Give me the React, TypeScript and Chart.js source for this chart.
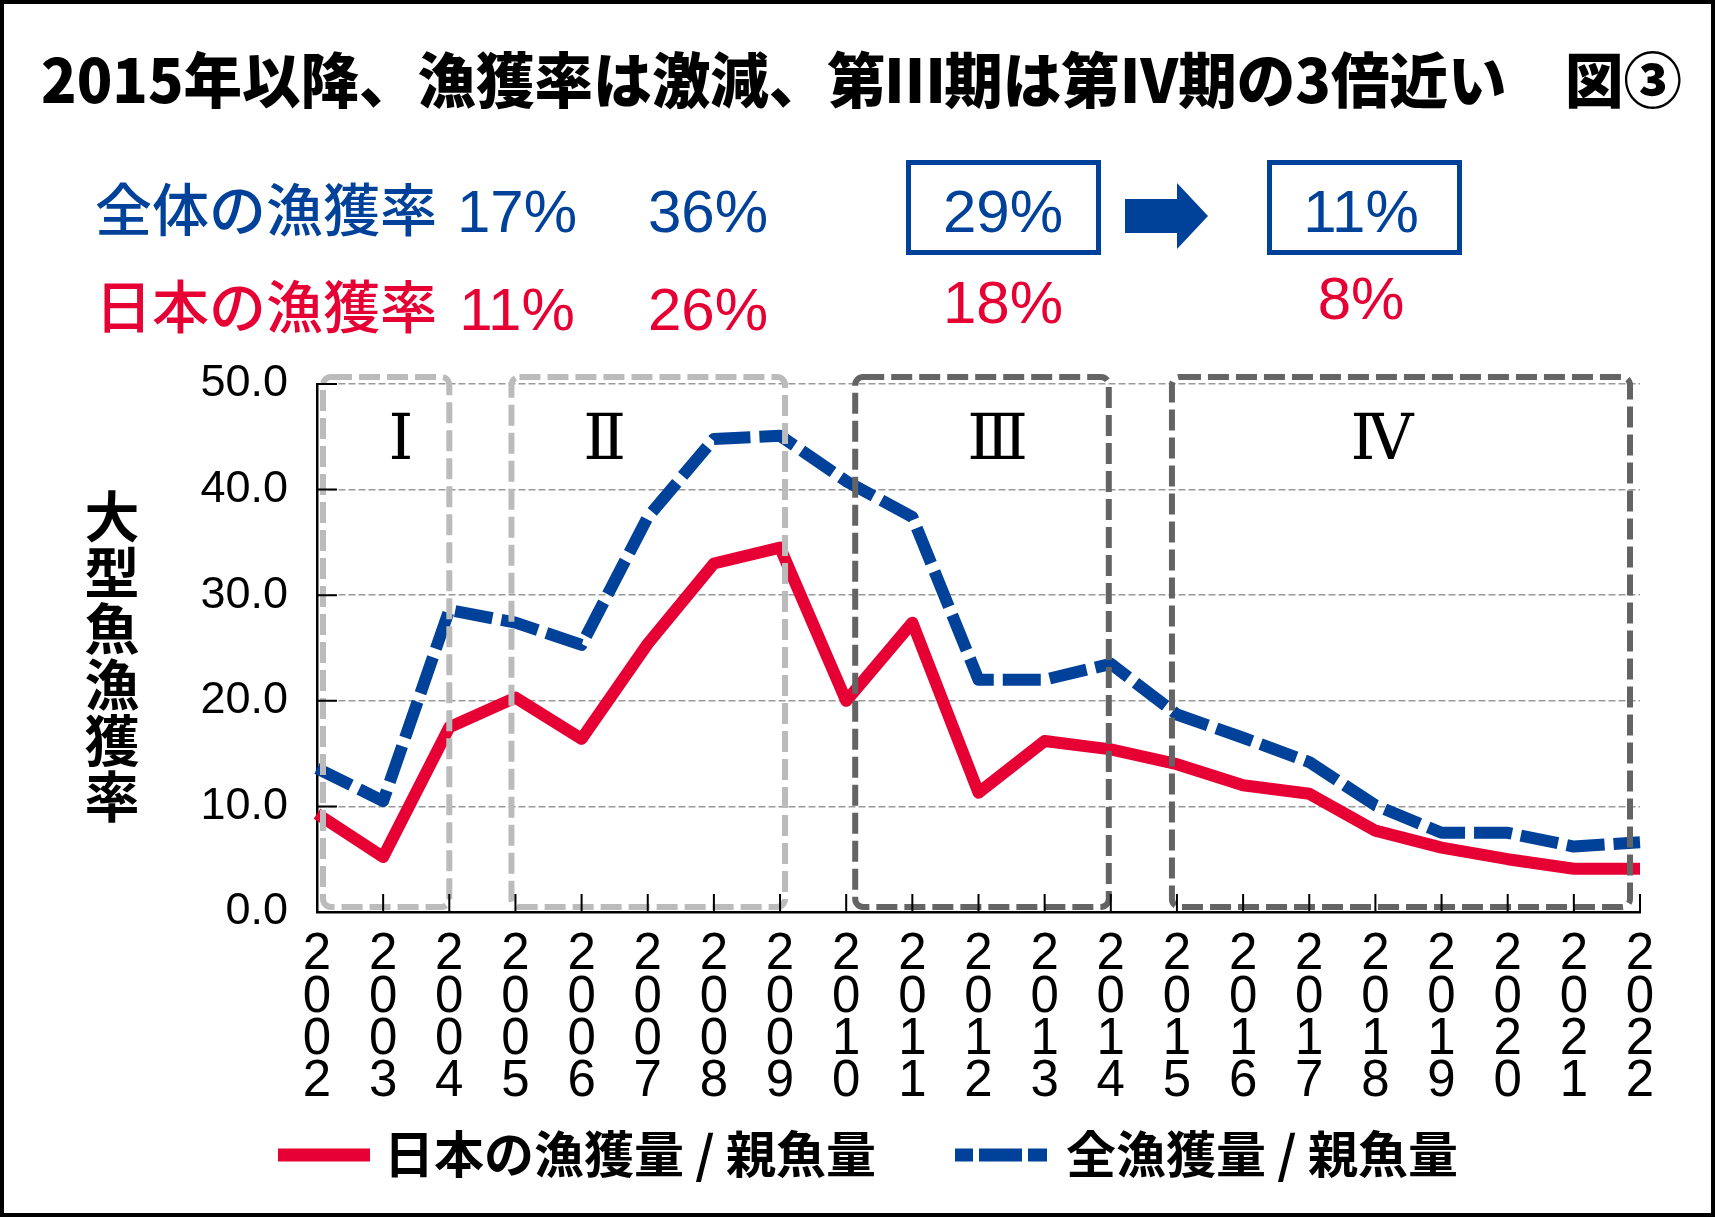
import { useEffect, useRef } from "react"
import { Chart, registerables, type ChartConfiguration, type Plugin } from "chart.js"

Chart.register(...registerables)

// 年 (x 軸)
const years = [
  2002, 2003, 2004, 2005, 2006, 2007, 2008, 2009, 2010, 2011, 2012,
  2013, 2014, 2015, 2016, 2017, 2018, 2019, 2020, 2021, 2022,
]

// 日本の漁獲量 / 親魚量 (%)
const japanRatio = [
  9.3, 5.2, 17.5, 20.3, 16.4, 25.4, 33.0, 34.5, 20.0, 27.4, 11.3,
  16.2, 15.4, 14.0, 12.0, 11.2, 7.7, 6.1, 5.0, 4.1, 4.1,
]

// 全漁獲量 / 親魚量 (%)
const totalRatio = [
  13.6, 10.5, 28.6, 27.4, 25.3, 37.4, 44.8, 45.1, 40.8, 37.4, 22.0,
  22.0, 23.5, 18.7, 16.5, 14.2, 10.1, 7.5, 7.5, 6.2, 6.6,
]

const seriesNames = ["日本の漁獲量 / 親魚量", "全漁獲量 / 親魚量"]

// 期間 I〜IV
const periodLabels = ["Ⅰ", "Ⅱ", "Ⅲ", "Ⅳ"]
const periodStart = [2002, 2005, 2010, 2015]
const periodEnd = [2004, 2009, 2014, 2022]

// 期ごとの平均漁獲率 (%)
const rateRowLabels = ["全体の漁獲率", "日本の漁獲率"]
const totalRates = [17, 36, 29, 11]
const japanRates = [11, 26, 18, 8]

const title = "2015年以降、漁獲率は激減、第Ⅲ期は第Ⅳ期の3倍近い　図③"
const yTitle = "大型魚漁獲率"

const BLUE = "#00419a"
const RED = "#e60033"
const SANS = "'Liberation Sans', Arial, sans-serif"
const CJK = "'Noto Sans CJK JP', sans-serif"

// px tweaks for the period frames: [left, right] relative to the year position
const boxInsets = [
  [6, 0],
  [-4, 5],
  [9, -2],
  [-5, -10],
]
const boxColors = ["#bbbbbb", "#bbbbbb", "#646464", "#646464"]
const numeralPos = [1.27, 4.35, 10.29, 16.1]

const decor: Plugin<"line"> = {
  id: "decor",
  beforeDraw(chart) {
    const { ctx, width, height } = chart
    ctx.save()
    ctx.fillStyle = "#fff"
    ctx.fillRect(0, 0, width, height)
    ctx.restore()
  },
  afterDatasetsDraw(chart) {
    const { ctx } = chart
    const x = chart.scales.x
    const y = chart.scales.y
    const top = y.getPixelForValue(50) - 7
    const bottom = y.getPixelForValue(0) - 5
    ctx.save()
    periodLabels.forEach((label, i) => {
      const l = x.getPixelForValue(years.indexOf(periodStart[i])) + boxInsets[i][0]
      const r = x.getPixelForValue(years.indexOf(periodEnd[i])) + boxInsets[i][1]
      ctx.beginPath()
      ctx.roundRect(l, top, r - l, bottom - top, 8)
      ctx.lineWidth = 6
      ctx.strokeStyle = boxColors[i]
      ctx.setLineDash([21, 7])
      ctx.stroke()

      ctx.setLineDash([])
      ctx.fillStyle = "#000"
      ctx.font = "63px 'DejaVu Serif', serif"
      ctx.textAlign = "center"
      ctx.textBaseline = "middle"
      ctx.fillText(label, x.getPixelForValue(numeralPos[i]), y.getPixelForValue(44.4))
    })
    ctx.restore()
  },
  afterDraw(chart) {
    const { ctx, chartArea } = chart
    const x = chart.scales.x
    const y = chart.scales.y
    ctx.save()

    // inward tick marks
    ctx.strokeStyle = "#000"
    ctx.lineWidth = 2
    ctx.beginPath()
    for (let v = 10; v <= 50; v += 10) {
      const py = y.getPixelForValue(v)
      ctx.moveTo(chartArea.left, py)
      ctx.lineTo(chartArea.left + 20, py)
    }
    for (let i = 1; i < years.length; i++) {
      const px = x.getPixelForValue(i)
      ctx.moveTo(px, chartArea.bottom)
      ctx.lineTo(px, chartArea.bottom - 18)
    }
    ctx.stroke()

    // y axis title, stacked vertically
    ctx.fillStyle = "#000"
    ctx.font = `bold 55px ${CJK}`
    ctx.textAlign = "center"
    ctx.textBaseline = "middle"
    Array.from(yTitle).forEach((ch, i) => ctx.fillText(ch, 112, 516 + i * 56))

    // title
    ctx.textAlign = "left"
    ctx.font = `900 60px ${CJK}`
    ctx.fillText(title, 41, 80, 1641)

    // rate rows
    const colX = [517, 708, 1003, 1361]
    ctx.font = `500 57px ${CJK}`
    ctx.fillStyle = BLUE
    ctx.fillText(rateRowLabels[0], 95, 209)
    ctx.fillStyle = RED
    ctx.fillText(rateRowLabels[1], 95, 306)

    ctx.textAlign = "center"
    ctx.textBaseline = "alphabetic"
    ctx.font = `60px ${SANS}`
    ctx.fillStyle = BLUE
    totalRates.forEach((v, i) => ctx.fillText(`${v}%`, colX[i], 232))
    const redBase = [330, 330, 323, 319]
    ctx.fillStyle = RED
    japanRates.forEach((v, i) => ctx.fillText(`${v}%`, colX[i], redBase[i]))

    // boxes around period III / IV totals and the arrow
    ctx.strokeStyle = BLUE
    ctx.lineWidth = 5
    ctx.strokeRect(908.5, 162.5, 190, 90)
    ctx.strokeRect(1269.5, 162.5, 190, 90)
    ctx.fillStyle = BLUE
    ctx.beginPath()
    ctx.moveTo(1125, 199)
    ctx.lineTo(1177, 199)
    ctx.lineTo(1177, 183)
    ctx.lineTo(1208, 216)
    ctx.lineTo(1177, 249)
    ctx.lineTo(1177, 233)
    ctx.lineTo(1125, 233)
    ctx.closePath()
    ctx.fill()

    // legend
    ctx.lineWidth = 13
    ctx.lineCap = "butt"
    ctx.strokeStyle = RED
    ctx.beginPath()
    ctx.moveTo(278, 1155)
    ctx.lineTo(370, 1155)
    ctx.stroke()
    ctx.strokeStyle = BLUE
    ctx.setLineDash([43, 6])
    ctx.lineDashOffset = 25
    ctx.beginPath()
    ctx.moveTo(955, 1155)
    ctx.lineTo(1047, 1155)
    ctx.stroke()
    ctx.setLineDash([])
    ctx.lineDashOffset = 0
    ctx.fillStyle = "#000"
    ctx.font = `bold 50px ${CJK}`
    ctx.textAlign = "left"
    ctx.textBaseline = "middle"
    ctx.fillText(seriesNames[0], 384, 1154)
    ctx.fillText(seriesNames[1], 1066, 1154)

    // outer frame
    ctx.strokeStyle = "#000"
    ctx.lineWidth = 4
    ctx.strokeRect(2, 2, chart.width - 4, chart.height - 4)
    ctx.restore()
  },
}

export default function App() {
  const canvasRef = useRef<HTMLCanvasElement>(null)

  useEffect(() => {
    document.body.style.margin = "0"
    const canvas = canvasRef.current
    if (!canvas) return

    const config: ChartConfiguration<"line"> = {
      type: "line",
      data: {
        labels: years.map((yr) => String(yr).split("")),
        datasets: [
          {
            label: seriesNames[0],
            data: japanRatio,
            borderColor: RED,
            backgroundColor: RED,
            borderWidth: 12,
            borderJoinStyle: "round",
            borderCapStyle: "butt",
            pointRadius: 0,
            tension: 0,
          },
          {
            label: seriesNames[1],
            data: totalRatio,
            borderColor: BLUE,
            backgroundColor: BLUE,
            borderWidth: 12,
            borderDash: [38, 9],
            borderJoinStyle: "round",
            borderCapStyle: "butt",
            pointRadius: 0,
            tension: 0,
          },
        ],
      },
      options: {
        responsive: false,
        animation: false,
        devicePixelRatio: 1,
        layout: { padding: { top: 384, right: 75, left: 0, bottom: 0 } },
        plugins: {
          legend: { display: false },
          title: { display: false },
          tooltip: { enabled: false },
        },
        scales: {
          x: {
            type: "category",
            offset: false,
            grid: { display: false, drawTicks: false },
            border: { display: true, color: "#000", width: 2.5 },
            ticks: {
              autoSkip: false,
              maxRotation: 0,
              minRotation: 0,
              padding: 22,
              color: "#000",
              font: { family: SANS, size: 51, lineHeight: 0.83 },
            },
            afterFit: (s) => {
              s.height = 305
            },
          },
          y: {
            min: 0,
            max: 50,
            z: 1,
            ticks: {
              stepSize: 10,
              padding: 29,
              color: "#000",
              font: { family: SANS, size: 45 },
              callback: (v) => Number(v).toFixed(1),
            },
            grid: {
              drawTicks: false,
              lineWidth: 1.5,
              color: (c) => (c.tick && c.tick.value === 0 ? "rgba(0,0,0,0)" : "#9a9a9a"),
            },
            border: { display: true, color: "#000", width: 2.5, dash: [7, 3] },
            afterFit: (s) => {
              s.width = 317
            },
          },
        },
      },
      plugins: [decor],
    }

    const chart = new Chart(canvas, config)
    return () => chart.destroy()
  }, [])

  return <canvas ref={canvasRef} width={1715} height={1217} style={{ display: "block" }} />
}
